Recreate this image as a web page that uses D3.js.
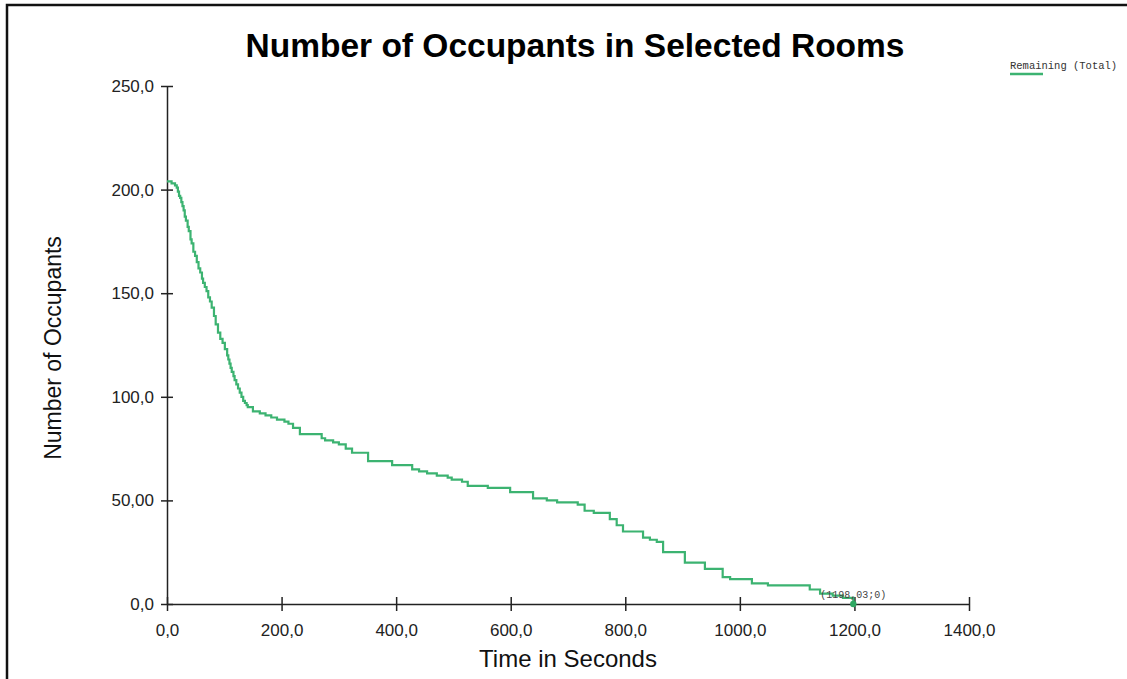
<!DOCTYPE html>
<html>
<head>
<meta charset="utf-8">
<script src="https://cdn.jsdelivr.net/npm/d3@7/dist/d3.min.js"></script>
<style>
  html, body { margin: 0; padding: 0; background: #fff; }
  svg { display: block; }
</style>
</head>
<body>
<svg id="chart" width="1127" height="679"></svg>
<script>
// ---- data ----
const times = [0, 8, 14, 17, 19, 21, 23, 25, 27, 29, 31, 33, 36, 38, 41, 43, 46, 49, 52, 55, 58, 61, 63, 66, 69, 72, 75, 78, 82, 85, 89, 93, 97, 101, 105, 107, 109, 111, 113, 116, 118, 121, 124, 127, 130, 133, 136, 139, 141, 150, 162, 172, 182, 192, 205, 212, 220, 232, 270, 276, 290, 300, 312, 323, 351, 393, 428, 440, 454, 471, 490, 497, 515, 525, 560, 599, 639, 663, 681, 717, 729, 745, 773, 785, 796, 831, 843, 855, 866, 904, 939, 970, 983, 1021, 1049, 1122, 1140, 1162, 1180, 1198.03];
const occupants = [204, 203, 202, 201, 199, 197, 196, 194, 192, 190, 187, 185, 182, 180, 176, 174, 170, 168, 165, 162, 160, 157, 155, 153, 151, 148, 146, 143, 139, 135, 131, 128, 126, 123, 120, 118, 116, 114, 112, 110, 108, 106, 104, 102, 100, 98, 97, 96, 95, 93, 92, 91, 90, 89, 88, 87, 85, 82, 80, 79, 78, 77, 75, 73, 69, 67, 65, 64, 63, 62, 61, 60, 59, 57, 56, 54, 51, 50, 49, 48, 45, 44, 41, 38, 35, 32, 31, 30, 25, 20, 17, 13, 12, 10, 9, 7, 5, 4, 3, 0];
const xTicks = [0, 200, 400, 600, 800, 1000, 1200, 1400];
const xTickLabels = ["0,0", "200,0", "400,0", "600,0", "800,0", "1000,0", "1200,0", "1400,0"];
const yTicks = [0, 50, 100, 150, 200, 250];
const yTickLabels = ["0,0", "50,00", "100,0", "150,0", "200,0", "250,0"];
const titleText = "Number of Occupants in Selected Rooms";
const xLabel = "Time in Seconds";
const yLabel = "Number of Occupants";
const seriesName = "Remaining (Total)";
const endPoint = { t: 1198.03, n: 0, label: "(1198,03;0)" };

// ---- layout ----
const svg = d3.select("#chart");
const lineColor = "#3cb371";
const x = d3.scaleLinear().domain([0, 1400]).range([167, 969]);
const y = d3.scaleLinear().domain([0, 250]).range([604, 86]);

// frame (left and top edges)
svg.append("path")
  .attr("d", "M7,679 L7,5 L1127,5")
  .attr("fill", "none").attr("stroke", "#111").attr("stroke-width", 2.5);

// title
svg.append("text").attr("x", 575).attr("y", 57)
  .attr("text-anchor", "middle")
  .style("font-family", "Arial, 'Liberation Sans', sans-serif")
  .style("font-weight", "bold").style("font-size", "33.5px")
  .text(titleText);

// axes
const xAxis = d3.axisBottom(x).tickValues(xTicks)
  .tickFormat((d, i) => xTickLabels[i]).tickSizeOuter(0).tickSizeInner(7).tickPadding(13);
const gx = svg.append("g").attr("transform", `translate(0,${y(0)})`).call(xAxis);
gx.selectAll(".tick line").attr("y1", -7).attr("y2", 7);

const yAxis = d3.axisLeft(y).tickValues(yTicks)
  .tickFormat((d, i) => yTickLabels[i]).tickSizeOuter(0).tickSizeInner(6).tickPadding(7);
const gy = svg.append("g").attr("transform", `translate(${x(0)},0)`).call(yAxis);
gy.selectAll(".tick line").attr("x1", -6).attr("x2", 6);

[gx, gy].forEach(g => {
  g.select(".domain").attr("stroke", "#222").attr("stroke-width", 1.5);
  g.selectAll(".tick line").attr("stroke", "#222").attr("stroke-width", 1.5);
  g.selectAll(".tick text")
    .style("font-family", "Arial, 'Liberation Sans', sans-serif")
    .style("font-size", "17px").attr("fill", "#222");
});

// axis labels
svg.append("text").attr("x", 568).attr("y", 667)
  .attr("text-anchor", "middle")
  .style("font-family", "Arial, 'Liberation Sans', sans-serif")
  .style("font-size", "24px").attr("fill", "#111")
  .text(xLabel);
svg.append("text")
  .attr("transform", "translate(61,348) rotate(-90)")
  .attr("text-anchor", "middle")
  .style("font-family", "Arial, 'Liberation Sans', sans-serif")
  .style("font-size", "23px").attr("fill", "#111")
  .text(yLabel);

// series line
const data = times.map((t, i) => ({ t, n: occupants[i] }));
const line = d3.line().x(d => x(d.t)).y(d => y(d.n)).curve(d3.curveStepAfter);
svg.append("path").datum(data)
  .attr("d", line)
  .attr("fill", "none").attr("stroke", lineColor).attr("stroke-width", 2.2);

// end point marker + label
svg.append("circle").attr("cx", x(endPoint.t)).attr("cy", y(endPoint.n))
  .attr("r", 3.2).attr("fill", "#2ea862");
svg.append("text").attr("x", x(endPoint.t)).attr("y", y(endPoint.n) - 6)
  .attr("text-anchor", "middle")
  .style("font-family", "'Liberation Mono', 'DejaVu Sans Mono', monospace")
  .style("font-size", "10px").attr("fill", "#444")
  .text(endPoint.label);

// legend
svg.append("text").attr("x", 1010).attr("y", 69)
  .style("font-family", "'Liberation Mono', 'DejaVu Sans Mono', monospace")
  .style("font-size", "10.5px").attr("fill", "#333")
  .text(seriesName);
svg.append("line").attr("x1", 1010).attr("x2", 1043).attr("y1", 74).attr("y2", 74)
  .attr("stroke", lineColor).attr("stroke-width", 2.5);
</script>
</body>
</html>
